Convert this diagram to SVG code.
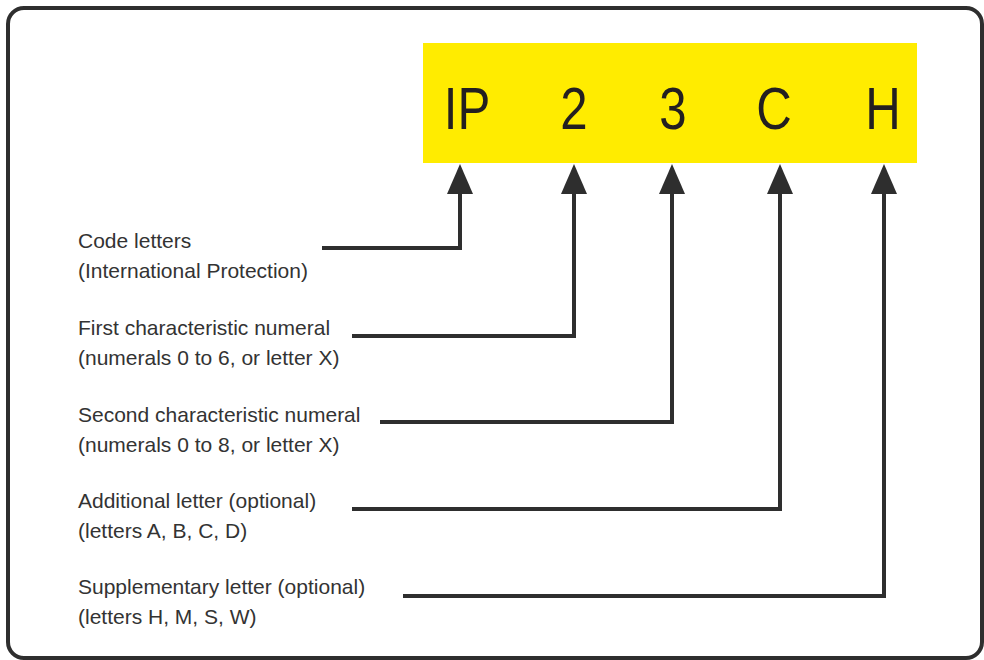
<svg xmlns="http://www.w3.org/2000/svg" width="984" height="660" viewBox="0 0 984 660">
<style>
.frame{fill:#fff;stroke:#2e2e2e;stroke-width:4}
.code{font-family:"Liberation Sans",Arial,sans-serif;font-size:60px;fill:#231f20;text-anchor:middle}
.lbl{font-family:"Liberation Sans",Arial,sans-serif;font-size:21px;fill:#333}
.wire{fill:none;stroke:#2e2e2e;stroke-width:4;stroke-linejoin:miter}
.head{fill:#2e2e2e}
</style>
<rect width="984" height="660" fill="#fff"/>
<rect class="frame" x="8" y="8" width="974" height="650" rx="16"/>
<g id="code-box">
<rect x="423" y="43" width="494" height="120" fill="#ffec00"/>
<text class="code" transform="translate(467,129) scale(0.82,1)">IP</text>
<text class="code" transform="translate(574,129) scale(0.82,1)">2</text>
<text class="code" transform="translate(673,129) scale(0.82,1)">3</text>
<text class="code" transform="translate(774,129) scale(0.82,1)">C</text>
<text class="code" transform="translate(883,129) scale(0.82,1)">H</text>
</g>
<g id="label-ip">
<text class="lbl" x="78" y="248">Code letters</text>
<text class="lbl" x="78" y="278">(International Protection)</text>
</g>
<g id="label-first">
<text class="lbl" x="78" y="335">First characteristic numeral</text>
<text class="lbl" x="78" y="365">(numerals 0 to 6, or letter X)</text>
</g>
<g id="label-second">
<text class="lbl" x="78" y="422">Second characteristic numeral</text>
<text class="lbl" x="78" y="452">(numerals 0 to 8, or letter X)</text>
</g>
<g id="label-additional">
<text class="lbl" x="78" y="508">Additional letter (optional)</text>
<text class="lbl" x="78" y="538">(letters A, B, C, D)</text>
</g>
<g id="label-supplementary">
<text class="lbl" x="78" y="594">Supplementary letter (optional)</text>
<text class="lbl" x="78" y="624">(letters H, M, S, W)</text>
</g>
<g id="connectors">
<polyline class="wire" points="322,248 460,248 460,192"/>
<polygon class="head" points="460,164 447,194 473,194"/>
<polyline class="wire" points="352,336 574,336 574,192"/>
<polygon class="head" points="574,164 561,194 587,194"/>
<polyline class="wire" points="380,422 672,422 672,192"/>
<polygon class="head" points="672,164 659,194 685,194"/>
<polyline class="wire" points="352,509 780,509 780,192"/>
<polygon class="head" points="780,164 767,194 793,194"/>
<polyline class="wire" points="403,596 884,596 884,192"/>
<polygon class="head" points="884,164 871,194 897,194"/>
</g>
</svg>
